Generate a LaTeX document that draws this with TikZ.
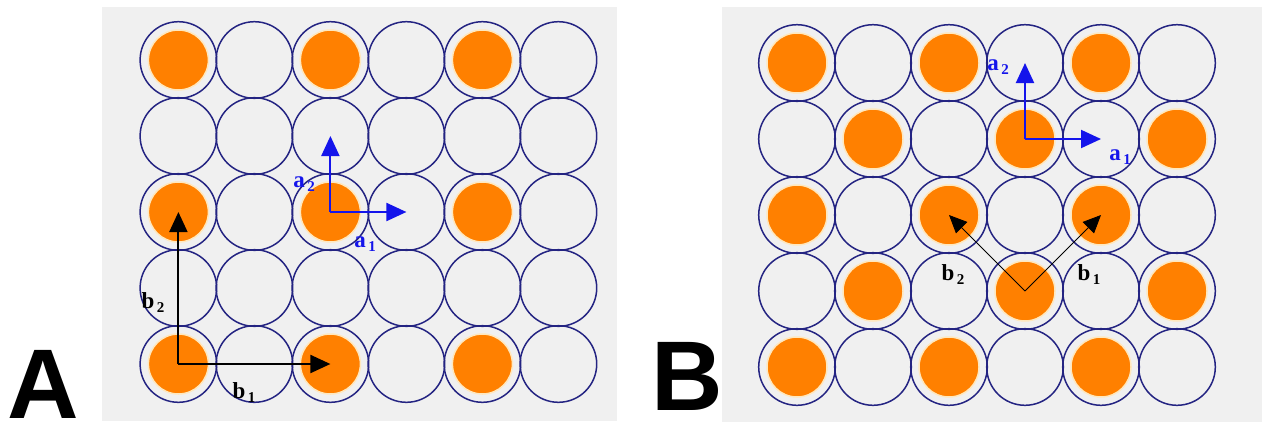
\documentclass[tikz,border=0pt]{standalone}
\usepackage{fontspec}
\setmainfont{Liberation Serif}
\newfontfamily\letterfont{Liberation Sans}
\usetikzlibrary{arrows.meta}
\definecolor{bg}{RGB}{240,240,240}
\definecolor{ring}{RGB}{36,36,130}
\definecolor{dotc}{RGB}{255,128,0}
\definecolor{halo}{RGB}{255,232,190}
\definecolor{vecblue}{RGB}{20,20,235}
\newcommand\vlab[2]{#1\kern2.5pt\raisebox{-4pt}{\fontsize{15}{15}\selectfont #2}}
\begin{document}
\begin{tikzpicture}[x=1pt,y=-1pt,
  cell/.style={circle,draw=ring,line width=1.5pt,minimum size=76.6pt,inner sep=0pt},
  dot/.style={circle,fill=dotc,draw=halo,line width=1.5pt,minimum size=60pt,inner sep=0pt},
  panel/.style={fill=bg},
  vecthick/.style={line width=2pt,-{Triangle[length=20pt,width=18pt]}},
  vecthin/.style={line width=0.9pt,-{Triangle[length=18pt,width=16pt]}},
  vlabel/.style={inner sep=0pt,font=\bfseries\fontsize{23}{23}\selectfont},
  letter/.style={anchor=base west,inner sep=0pt,font=\letterfont\bfseries\fontsize{99}{99}\selectfont}
]
\useasboundingbox (0,0) rectangle (1268,426);
\fill[panel] (102,7) rectangle (617,421);
\fill[panel] (722,7) rectangle (1262,422);
% panel A lattice
\foreach \r in {0,...,4}{\foreach \c in {0,...,5}{
  \node[cell] (A-\r-\c) at ({178.4+76*\c},{60+76*\r}) {};
  \ifodd\r\else\ifodd\c\else\node[dot] at (A-\r-\c) {};\fi\fi
}}
% panel B lattice
\foreach \r in {0,...,4}{\foreach \c in {0,...,5}{
  \node[cell] (B-\r-\c) at ({797+76*\c},{63+76*\r}) {};
  \ifodd\numexpr\r+\c\relax\else\node[dot] at (B-\r-\c) {};\fi
}}
% panel A vectors
\draw[vecthick,vecblue] (A-2-2.center) -- (A-2-3.center);
\draw[vecthick,vecblue] (A-2-2.center) -- (A-1-2.center);
\draw[vecthick,black] (A-4-0.center) -- (A-4-2.center);
\draw[vecthick,black] (A-4-0.center) -- (A-2-0.center);
\node[vlabel,text=vecblue] (la2) at (304,184) {\vlab{a}{2}};
\node[vlabel,text=vecblue] (la1) at (365,244) {\vlab{a}{1}};
\node[vlabel] (lb2) at (153,303) {\vlab{b}{2}};
\node[vlabel] (lb1) at (244,393) {\vlab{b}{1}};
% panel B vectors
\draw[vecthick,vecblue] (B-1-3.center) -- (B-1-4.center);
\draw[vecthick,vecblue] (B-1-3.center) -- (B-0-3.center);
\draw[vecthin,black] (B-3-3.center) -- (B-2-4.center);
\draw[vecthin,black] (B-3-3.center) -- (B-2-2.center);
\node[vlabel,text=vecblue] (la2B) at (998,67) {\vlab{a}{2}};
\node[vlabel,text=vecblue] (la1B) at (1120,157) {\vlab{a}{1}};
\node[vlabel] (lb2B) at (953,275) {\vlab{b}{2}};
\node[vlabel] (lb1B) at (1089,275) {\vlab{b}{1}};
% panel letters
\node[letter] (LA) at (7,418) {A};
\node[letter] (LB) at (651,410) {B};
\end{tikzpicture}
\end{document}
